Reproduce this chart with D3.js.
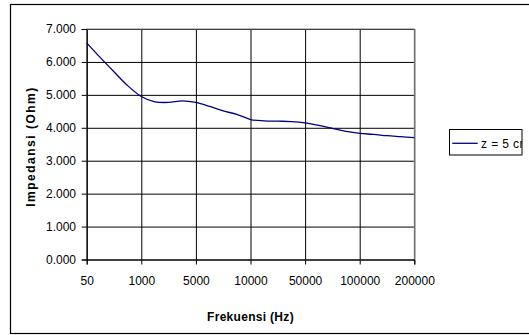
<!DOCTYPE html>
<html>
<head>
<meta charset="utf-8">
<script src="https://cdn.jsdelivr.net/npm/d3@7"></script>
<style>
  html, body { margin: 0; padding: 0; background: #fff; }
  svg { display: block; font-family: "Liberation Sans", Arial, sans-serif; }
  .tick text { font-size: 12px; fill: #000; }
  .axis-title { font-size: 12px; font-weight: bold; fill: #000; }
</style>
</head>
<body>
<div id="chart"></div>
<script>
// Frekuensi (Hz) - kategori data, label hanya pada sebagian
const frequencies = [50, 250, 500, 750, 1000, 2000, 3000, 4000, 5000, 6250, 7500, 8750,
  10000, 20000, 30000, 40000, 50000, 62500, 75000, 87500, 100000, 125000, 150000, 175000, 200000];
const tickLabels = [50, 1000, 5000, 10000, 50000, 100000, 200000];

// Impedansi (Ohm), z = 5 cm
const impedance = [6.58, 6.13, 5.70, 5.28, 4.95, 4.79, 4.77, 4.82, 4.77, 4.65, 4.51, 4.41,
  4.25, 4.21, 4.20, 4.19, 4.15, 4.07, 3.98, 3.89, 3.83, 3.80, 3.76, 3.73, 3.70];
const yTicks = [0, 1, 2, 3, 4, 5, 6, 7];
const seriesName = "z = 5 cm";

const width = 529, height = 335;
const plot = { left: 86.7, right: 414.3, top: 29, bottom: 259.5 };

const svg = d3.select("#chart").append("svg")
  .attr("width", width)
  .attr("height", height);

// Bingkai luar chart
svg.append("rect")
  .attr("x", 10.5).attr("y", 4.5)
  .attr("width", 540).attr("height", 329)
  .attr("fill", "#fff")
  .attr("stroke", "#000")
  .attr("stroke-width", 1.2);

const x = d3.scalePoint().domain(frequencies).range([plot.left, plot.right]);
const y = d3.scaleLinear().domain([0, 7]).range([plot.bottom, plot.top]);

// Garis grid horizontal
svg.append("g")
  .attr("transform", `translate(${plot.left},0)`)
  .call(d3.axisLeft(y).tickValues(yTicks).tickSize(-(plot.right - plot.left)).tickFormat(""))
  .call(g => g.select(".domain").remove())
  .call(g => g.selectAll("line").attr("stroke", "#000"));

// Garis grid vertikal
svg.append("g")
  .attr("transform", `translate(0,${plot.bottom})`)
  .call(d3.axisBottom(x).tickValues(tickLabels).tickSize(-(plot.bottom - plot.top)).tickFormat(""))
  .call(g => g.select(".domain").remove())
  .call(g => g.selectAll("line").attr("stroke", "#000"));

// Bingkai area plot (abu-abu)
svg.append("rect")
  .attr("x", plot.left).attr("y", plot.top)
  .attr("width", plot.right - plot.left).attr("height", plot.bottom - plot.top)
  .attr("fill", "none")
  .attr("stroke", "#808080");

// Sumbu Y
svg.append("g")
  .attr("transform", `translate(${plot.left},0)`)
  .call(d3.axisLeft(y).tickValues(yTicks).tickSize(5).tickPadding(5.7).tickFormat(d3.format(".3f")))
  .call(g => g.selectAll("path, line").attr("stroke", "#000"));

// Sumbu X
svg.append("g")
  .attr("transform", `translate(0,${plot.bottom})`)
  .call(d3.axisBottom(x).tickValues(tickLabels).tickSize(5).tickPadding(11.5).tickFormat(d => d))
  .call(g => g.selectAll("path, line").attr("stroke", "#000"));

// Garis data
const line = d3.line()
  .x((d, i) => x(frequencies[i]))
  .y(d => y(d))
  .curve(d3.curveCardinal.tension(0));

svg.append("path")
  .datum(impedance)
  .attr("fill", "none")
  .attr("stroke", "#000080")
  .attr("stroke-width", 1.3)
  .attr("d", line);

// Judul sumbu
svg.append("text")
  .attr("class", "axis-title")
  .attr("text-anchor", "middle")
  .attr("x", (plot.left + plot.right) / 2)
  .attr("y", 320.5)
  .attr("letter-spacing", "0.3px")
  .text("Frekuensi (Hz)");

svg.append("text")
  .attr("class", "axis-title")
  .attr("text-anchor", "middle")
  .attr("transform", "translate(35,146.5) rotate(-90)")
  .attr("letter-spacing", "1.5px")
  .text("Impedansi (Ohm)");

// Legenda
svg.append("clipPath").attr("id", "legend-clip")
  .append("rect").attr("x", 449.5).attr("y", 129.5).attr("width", 72.5).attr("height", 25.5);

const legend = svg.append("g");
legend.append("rect")
  .attr("x", 449.5).attr("y", 129.5)
  .attr("width", 72.5).attr("height", 25.5)
  .attr("fill", "#fff")
  .attr("stroke", "#000");
legend.append("line")
  .attr("x1", 452.3).attr("x2", 477.7)
  .attr("y1", 143.3).attr("y2", 143.3)
  .attr("stroke", "#000080")
  .attr("stroke-width", 1.3);
legend.append("text")
  .attr("clip-path", "url(#legend-clip)")
  .attr("x", 481).attr("y", 147.6)
  .attr("font-size", 12)
  .attr("letter-spacing", "0.4px")
  .text(seriesName);
</script>
</body>
</html>
